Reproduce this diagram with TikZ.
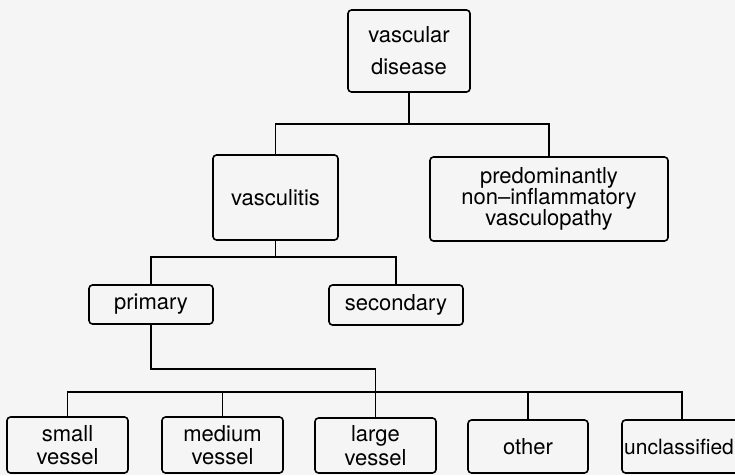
\documentclass[tikz,border=0pt]{standalone}
\usepackage{fontspec}
\setmainfont{TeX Gyre Heros}
\usetikzlibrary{calc}
\begin{document}
\begin{tikzpicture}[x=1pt,y=-1pt,
  box/.style={draw, line width=1.6pt, rounded corners=3.5pt, inner sep=0pt,
    align=center, font=\fontsize{22}{22}\selectfont},
  link/.style={line width=1.5pt}]
\fill[gray!8] (0,0) rectangle (735,475);
\useasboundingbox (0,0) rectangle (735,475);
\clip (0,0) rectangle (735,475);

\node[box, minimum width=122pt, minimum height=82pt, font=\fontsize{22}{32}\selectfont] (vd) at (409,51) {vascular\\disease};
\node[box, minimum width=125pt, minimum height=85pt] (vasc) at (275.5,197.5) {vasculitis};
\node[box, minimum width=238pt, minimum height=84pt, font=\fontsize{22}{21}\selectfont] (pred) at (549,199) {predominantly\\non--inflammatory\\vasculopathy};
\node[box, minimum width=124pt, minimum height=39pt] (prim) at (151,304.5) {primary};
\node[box, minimum width=134pt, minimum height=40pt] (sec) at (396,305) {secondary};
\node[box, minimum width=121pt, minimum height=56pt, font=\fontsize{22}{23.5}\selectfont] (small) at (67.5,445) {small\\vessel};
\node[box, minimum width=121pt, minimum height=56pt, font=\fontsize{22}{23.5}\selectfont] (medium) at (222.5,445) {medium\\vessel};
\node[box, minimum width=121pt, minimum height=55pt, font=\fontsize{22}{23.5}\selectfont] (large) at (375.5,445.5) {large\\vessel};
\node[box, minimum width=120pt, minimum height=53pt] (other) at (528,446.5) {other};
\node[box, minimum width=120pt, minimum height=53pt, font=\fontsize{21}{21}\selectfont] (unc) at (682,446.5) {unclassified\hspace*{6pt}};

% level 1
\path (vasc.north) ++(0,-30) coordinate (j1);
\draw[link] (vd.south) -- (vd.south |- j1);
\draw[link] (vasc.north) -- (j1) -| (pred.north);
% level 2
\path (prim.north) ++(0,-27) coordinate (j2);
\draw[link] (vasc.south) -- (vasc.south |- j2);
\draw[link] (prim.north) -- (j2) -| (sec.north);
% primary to bottom row
\draw[link] (prim.south) -- ++(0,44) -| (large.north);
\path (small.north) ++(0,-24) coordinate (j3);
\draw[link] (small.north) -- (j3) -| (unc.north);
\draw[link] (medium.north) -- (medium.north |- j3);
\draw[link] (other.north) -- (other.north |- j3);
\end{tikzpicture}
\end{document}
